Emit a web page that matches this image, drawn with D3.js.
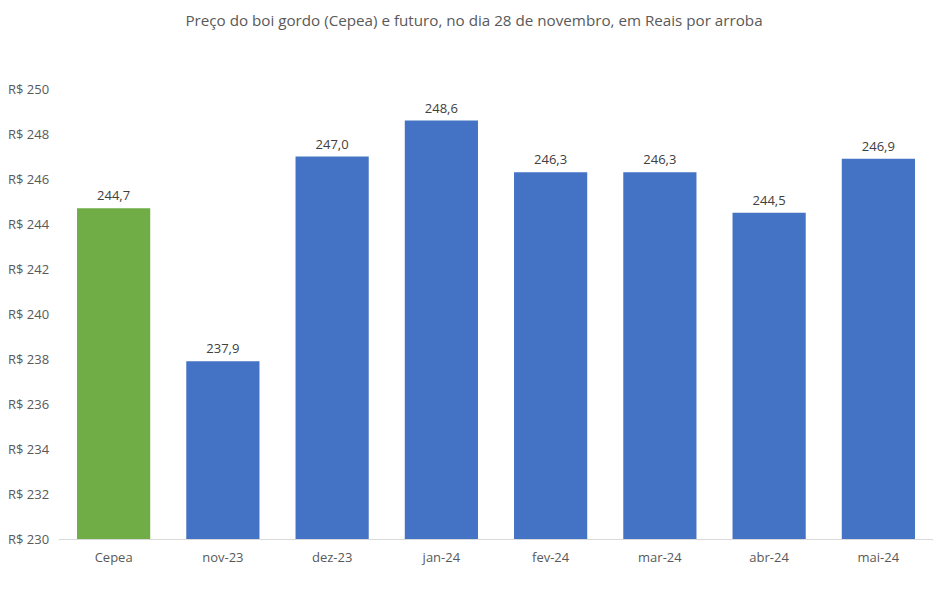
<!DOCTYPE html>
<html><head><meta charset="utf-8">
<script src="https://cdn.jsdelivr.net/npm/d3@7/dist/d3.min.js"></script>
<style>body{margin:0;background:#fff}svg{display:block}text{font-family:"Open Sans",sans-serif;fill:#595959}</style>
</head><body>
<svg id="c" width="948" height="589"></svg>
<script>
const title = "Preço do boi gordo (Cepea) e futuro, no dia 28 de novembro, em Reais por arroba";
const categories = ["Cepea","nov-23","dez-23","jan-24","fev-24","mar-24","abr-24","mai-24"];
const values = [244.7,237.9,247.0,248.6,246.3,246.3,244.5,246.9];
const colors = ["#70AD47","#4472C4","#4472C4","#4472C4","#4472C4","#4472C4","#4472C4","#4472C4"];
const yTicks = [230,232,234,236,238,240,242,244,246,248,250];

const svg = d3.select("#c");
const x = d3.scaleBand().domain(categories).range([59,933]).paddingInner(0.33).paddingOuter(0.165);
const y = d3.scaleLinear().domain([230,250]).range([539,89]);
const fmt = v => v.toFixed(1).replace(".", ",");

svg.append("text").attr("x",474).attr("y",26).attr("text-anchor","middle")
  .style("font-size","15.2px").text(title);

svg.selectAll("text.yt").data(yTicks).enter().append("text").attr("class","yt")
  .attr("x",8).attr("y",d=>y(d)).attr("dy","0.35em").style("font-size","13px")
  .text(d=>"R$ "+d);

svg.selectAll("rect").data(values).enter().append("rect")
  .attr("x",(d,i)=>x(categories[i])).attr("width",x.bandwidth())
  .attr("y",d=>y(d)).attr("height",d=>y(230)-y(d)).attr("fill",(d,i)=>colors[i]);

svg.append("line").attr("x1",59).attr("x2",933).attr("y1",y(230)+0.5).attr("y2",y(230)+0.5)
  .attr("stroke","#d9d9d9").attr("stroke-width",1);

svg.selectAll("text.vl").data(values).enter().append("text").attr("class","vl")
  .attr("x",(d,i)=>x(categories[i])+x.bandwidth()/2).attr("y",d=>y(d)-8)
  .attr("text-anchor","middle").style("font-size","13px").style("fill","#404040").text(fmt);

svg.selectAll("text.xl").data(categories).enter().append("text").attr("class","xl")
  .attr("x",d=>x(d)+x.bandwidth()/2).attr("y",562)
  .attr("text-anchor","middle").style("font-size","13px").text(d=>d);
</script>
</body></html>
